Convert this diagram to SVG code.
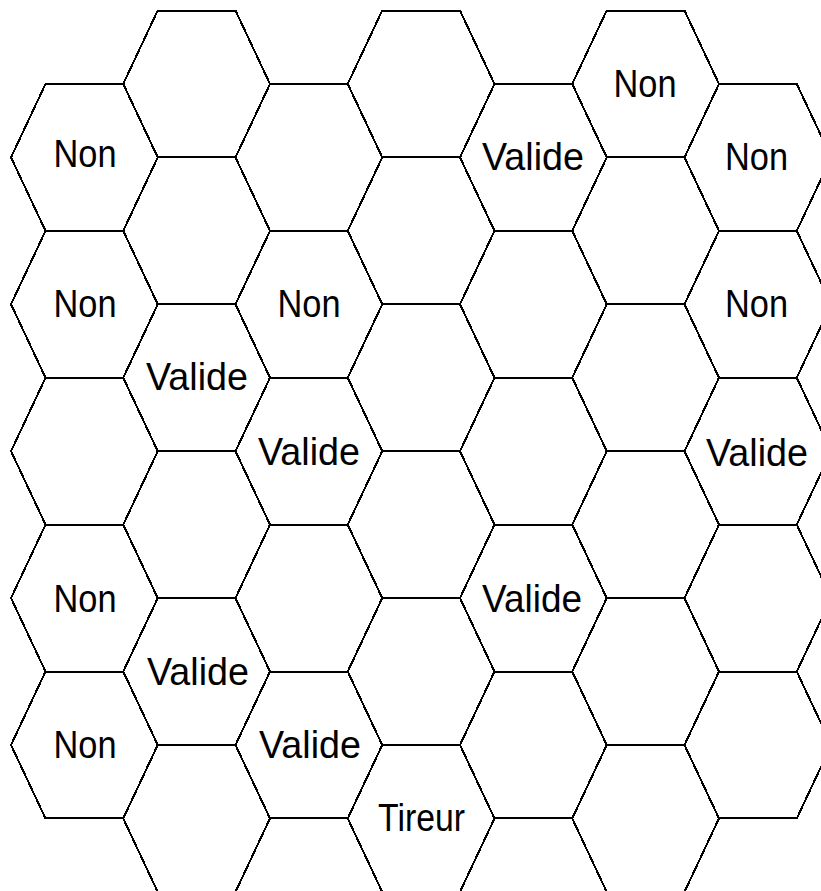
<svg xmlns="http://www.w3.org/2000/svg" xmlns:xlink="http://www.w3.org/1999/xlink" width="821" height="891" viewBox="0 0 821 891">
<style>
.hx{fill:none;stroke:#000;stroke-width:2;stroke-linejoin:miter;shape-rendering:crispEdges}
.lb{font-family:"Liberation Sans",Arial,sans-serif;font-size:39px;fill:#000;text-anchor:middle}
</style>
<defs>
<polygon id="hex" class="hx" points="-73.375,0 -38.875,-73.45 38.875,-73.45 73.375,0 38.875,73.45 -38.875,73.45"/>
</defs>
<rect x="0" y="0" width="821" height="891" fill="#fff"/>
<g id="connectors"/>
<g id="hexes">
<!-- column A (x=84.4) -->
<g id="A1"><use href="#hex" x="84.4" y="157.4"/><text class="lb" x="85" y="167" textLength="63" lengthAdjust="spacingAndGlyphs">Non</text></g>
<g id="A2"><use href="#hex" x="84.4" y="304.3"/><text class="lb" x="85" y="317" textLength="63" lengthAdjust="spacingAndGlyphs">Non</text></g>
<g id="A3"><use href="#hex" x="84.4" y="451.2"/></g>
<g id="A4"><use href="#hex" x="84.4" y="598.1"/><text class="lb" x="85" y="611.5" textLength="63" lengthAdjust="spacingAndGlyphs">Non</text></g>
<g id="A5"><use href="#hex" x="84.4" y="745"/><text class="lb" x="85" y="758" textLength="63" lengthAdjust="spacingAndGlyphs">Non</text></g>
<!-- column B (x=196.6) -->
<g id="B0"><use href="#hex" x="196.6" y="83.95"/></g>
<g id="B1"><use href="#hex" x="196.6" y="230.85"/></g>
<g id="B2"><use href="#hex" x="196.6" y="377.75"/><text class="lb" x="197" y="390" textLength="102" lengthAdjust="spacingAndGlyphs">Valide</text></g>
<g id="B3"><use href="#hex" x="196.6" y="524.65"/></g>
<g id="B4"><use href="#hex" x="196.6" y="671.55"/><text class="lb" x="198" y="685" textLength="102" lengthAdjust="spacingAndGlyphs">Valide</text></g>
<g id="B5"><use href="#hex" x="196.6" y="818.45"/></g>
<!-- column C (x=308.9) -->
<g id="C1"><use href="#hex" x="308.9" y="157.4"/></g>
<g id="C2"><use href="#hex" x="308.9" y="304.3"/><text class="lb" x="309" y="317" textLength="63" lengthAdjust="spacingAndGlyphs">Non</text></g>
<g id="C3"><use href="#hex" x="308.9" y="451.2"/><text class="lb" x="309" y="465" textLength="102" lengthAdjust="spacingAndGlyphs">Valide</text></g>
<g id="C4"><use href="#hex" x="308.9" y="598.1"/></g>
<g id="C5"><use href="#hex" x="308.9" y="745"/><text class="lb" x="310" y="758" textLength="102" lengthAdjust="spacingAndGlyphs">Valide</text></g>
<!-- column D (x=421.1) -->
<g id="D0"><use href="#hex" x="421.1" y="83.95"/></g>
<g id="D1"><use href="#hex" x="421.1" y="230.85"/></g>
<g id="D2"><use href="#hex" x="421.1" y="377.75"/></g>
<g id="D3"><use href="#hex" x="421.1" y="524.65"/></g>
<g id="D4"><use href="#hex" x="421.1" y="671.55"/></g>
<g id="D5"><use href="#hex" x="421.1" y="818.45"/><text class="lb" x="421.5" y="831" textLength="87" lengthAdjust="spacingAndGlyphs">Tireur</text></g>
<!-- column E (x=533.4) -->
<g id="E1"><use href="#hex" x="533.4" y="157.4"/><text class="lb" x="533" y="170" textLength="102" lengthAdjust="spacingAndGlyphs">Valide</text></g>
<g id="E2"><use href="#hex" x="533.4" y="304.3"/></g>
<g id="E3"><use href="#hex" x="533.4" y="451.2"/></g>
<g id="E4"><use href="#hex" x="533.4" y="598.1"/><text class="lb" x="532" y="611.5" textLength="100" lengthAdjust="spacingAndGlyphs">Valide</text></g>
<g id="E5"><use href="#hex" x="533.4" y="745"/></g>
<!-- column F (x=645.6) -->
<g id="F0"><use href="#hex" x="645.6" y="83.95"/><text class="lb" x="645" y="97" textLength="63" lengthAdjust="spacingAndGlyphs">Non</text></g>
<g id="F1"><use href="#hex" x="645.6" y="230.85"/></g>
<g id="F2"><use href="#hex" x="645.6" y="377.75"/></g>
<g id="F3"><use href="#hex" x="645.6" y="524.65"/></g>
<g id="F4"><use href="#hex" x="645.6" y="671.55"/></g>
<g id="F5"><use href="#hex" x="645.6" y="818.45"/></g>
<!-- column G (x=757.9) -->
<g id="G1"><use href="#hex" x="757.9" y="157.4"/><text class="lb" x="756.5" y="170" textLength="63" lengthAdjust="spacingAndGlyphs">Non</text></g>
<g id="G2"><use href="#hex" x="757.9" y="304.3"/><text class="lb" x="756.5" y="317" textLength="63" lengthAdjust="spacingAndGlyphs">Non</text></g>
<g id="G3"><use href="#hex" x="757.9" y="451.2"/><text class="lb" x="757" y="466" textLength="102" lengthAdjust="spacingAndGlyphs">Valide</text></g>
<g id="G4"><use href="#hex" x="757.9" y="598.1"/></g>
<g id="G5"><use href="#hex" x="757.9" y="745"/></g>
</g>
</svg>
